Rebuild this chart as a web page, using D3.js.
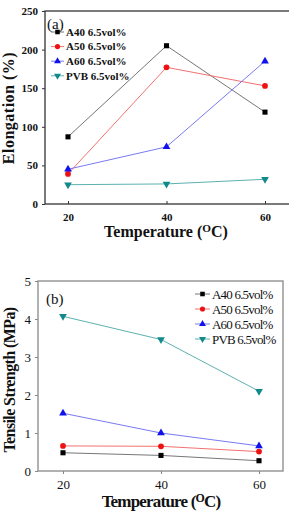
<!DOCTYPE html>
<html><head><meta charset="utf-8">
<script src="https://cdn.jsdelivr.net/npm/d3@7"></script>
<style>body{margin:0;background:#fff}svg{display:block}text{font-family:"Liberation Serif","DejaVu Serif",serif}</style>
</head><body>
<svg id="c" width="289" height="512"></svg>
<script>
const temps = [20, 40, 60];
const seriesNames = ["A40 6.5vol%", "A50 6.5vol%", "A60 6.5vol%", "PVB 6.5vol%"];
const elongA40 = [87, 205, 119];
const elongA50 = [39, 177, 153];
const elongA60 = [45, 74, 185];
const elongPVB = [25, 26, 32];
const tensA40 = [0.48, 0.41, 0.27];
const tensA50 = [0.66, 0.65, 0.51];
const tensA60 = [1.52, 1.0, 0.66];
const tensPVB = [4.07, 3.46, 2.1];
const elongTicks = [0, 50, 100, 150, 200, 250];
const tensTicks = [0, 1, 2, 3, 4, 5];

const FONT = "'Liberation Serif', 'DejaVu Serif', serif";
const markerColors = ["#000", "#ee1111", "#1111ee", "#138a8a"];
const lineColors = ["#666", "#f06060", "#6a6af0", "#4aa8a8"];
const symbols = [d3.symbolSquare, d3.symbolCircle, d3.symbolTriangle, d3.symbolTriangle];
const rotations = [0, 0, 0, 180];

const svg = d3.select("#c");

function panel(cfg) {
  const g = svg.append("g");
  const x = d3.scaleLinear().domain([20, 60]).range(cfg.xr);
  const y = d3.scaleLinear().domain(cfg.yd).range(cfg.yr);
  g.append("rect").attr("x", cfg.box[0]).attr("y", cfg.yr[1])
    .attr("width", cfg.box[1] - cfg.box[0]).attr("height", cfg.yr[0] - cfg.yr[1])
    .attr("fill", "none").attr("stroke", cfg.axisColor).attr("stroke-width", 1.3);
  const ya = g.append("g").attr("transform", `translate(${cfg.box[0]},0)`)
    .call(d3.axisLeft(y).tickValues(cfg.yticks).tickSize(3).tickPadding(4).tickFormat(d3.format("d")));
  ya.select(".domain").remove();
  ya.selectAll("line").attr("stroke", cfg.axisColor);
  ya.selectAll("text").attr("font-family", FONT).attr("font-size", cfg.tickFs)
    .attr("font-weight", cfg.bold ? "bold" : "normal").attr("fill", "#111");
  const xa = g.append("g").attr("transform", `translate(0,${cfg.yr[0]})`)
    .call(d3.axisBottom(x).tickValues(temps).tickSize(cfg.xTickIn ? -3 : 3).tickPadding(cfg.xTickIn ? 9 : 6).tickFormat(d3.format("d")));
  xa.select(".domain").remove();
  xa.selectAll("line").attr("stroke", cfg.axisColor);
  xa.selectAll("text").attr("font-family", FONT).attr("font-size", cfg.tickFs)
    .attr("font-weight", cfg.bold ? "bold" : "normal").attr("fill", "#111");
  cfg.data.forEach((vals, i) => {
    const pts = temps.map((t, j) => [x(t), y(vals[j])]);
    g.append("path").attr("d", d3.line()(pts)).attr("fill", "none")
      .attr("stroke", lineColors[i]).attr("stroke-width", 0.9);
    pts.forEach(p => {
      g.append("path").attr("d", d3.symbol().type(symbols[i]).size(cfg.msize)())
        .attr("transform", `translate(${p[0]},${p[1]}) rotate(${rotations[i]})`)
        .attr("fill", markerColors[i]);
    });
  });
  seriesNames.forEach((name, i) => {
    const ly = cfg.leg.y0 + i * cfg.leg.dy;
    g.append("line").attr("x1", cfg.leg.x).attr("x2", cfg.leg.x + cfg.leg.len)
      .attr("y1", ly).attr("y2", ly).attr("stroke", lineColors[i]).attr("stroke-width", 0.9);
    g.append("path").attr("d", d3.symbol().type(symbols[i]).size(cfg.msize * 0.8)())
      .attr("transform", `translate(${cfg.leg.x + cfg.leg.len / 2},${ly}) rotate(${rotations[i]})`)
      .attr("fill", markerColors[i]);
    g.append("text").attr("x", cfg.leg.x + cfg.leg.len + 2).attr("y", ly + cfg.leg.fs * 0.35)
      .attr("font-family", FONT).attr("font-size", cfg.leg.fs)
      .attr("font-weight", cfg.bold ? "bold" : "normal")
      .attr("letter-spacing", cfg.leg.ls).attr("fill", "#111").text(name);
  });
  g.append("text").attr("x", cfg.letter[0]).attr("y", cfg.letter[1])
    .attr("font-family", FONT).attr("font-size", 15).attr("fill", "#111").text(cfg.letter[2]);
  g.append("text").attr("transform", `translate(${cfg.ylab[0]},${cfg.ylab[1]}) rotate(-90)`)
    .attr("text-anchor", "middle").attr("font-family", FONT).attr("font-weight", "bold")
    .attr("font-size", cfg.ylab[3]).attr("letter-spacing", cfg.ylab[4]).attr("fill", "#111").text(cfg.ylab[2]);
  const xt = g.append("text").attr("x", cfg.xlab[0]).attr("y", cfg.xlab[1]).attr("text-anchor", "middle")
    .attr("font-family", FONT).attr("font-weight", "bold").attr("font-size", cfg.xlab[2])
    .attr("letter-spacing", cfg.xlab[3]).attr("fill", "#111");
  xt.append("tspan").text("Temperature (");
  xt.append("tspan").attr("font-size", cfg.xlab[2] * 0.7).attr("dy", -5).text("O");
  xt.append("tspan").attr("dy", 5).text("C)");
}

panel({
  xr: [68, 265], box: [45, 300], yd: [0, 250], yr: [204, 11], yticks: elongTicks,
  axisColor: "#333", tickFs: 11, bold: true, xTickIn: true, msize: 26,
  data: [elongA40, elongA50, elongA60, elongPVB],
  leg: { x: 51, len: 13, y0: 32, dy: 14.6, fs: 11, ls: 0 },
  letter: [47, 29, "(a)"],
  ylab: [14, 108, "Elongation (%)", 16, 0.5],
  xlab: [166, 237, 16, 0]
});

panel({
  xr: [63, 259], box: [38, 283], yd: [0, 5], yr: [471, 281], yticks: tensTicks,
  axisColor: "#888", tickFs: 13, bold: false, xTickIn: false, msize: 26,
  data: [tensA40, tensA50, tensA60, tensPVB],
  leg: { x: 195, len: 15, y0: 294, dy: 15, fs: 13, ls: -0.8 },
  letter: [46, 304, "(b)"],
  ylab: [15, 380, "Tensile Strength (MPa)", 16, -0.6],
  xlab: [161, 507, 17, -0.8]
});
</script>
</body></html>
